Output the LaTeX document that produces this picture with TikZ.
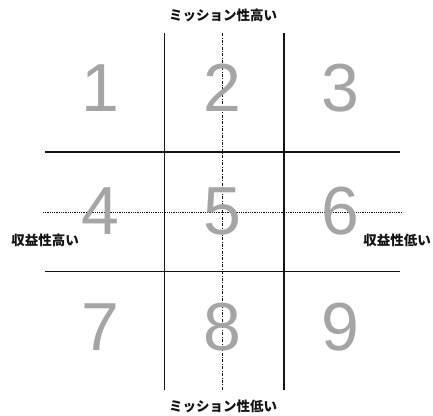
\documentclass[tikz,border=0pt]{standalone}
\usepackage{fontspec}
\usepackage{xcolor}
\usepackage{tikz}
\usetikzlibrary{positioning, calc}
\setsansfont{Liberation Sans}
\newfontfamily\jpfont{Noto Sans CJK JP}
\definecolor{mydark}{RGB}{20,20,20}
\definecolor{mydigit}{RGB}{165,165,165}
\tikzset{
  gridline/.style={line width=1.1pt, color=mydark},
  axisdash/.style={line width=0.8pt, color=mydark, dash pattern=on 3pt off 1.5pt on 0.8pt off 1.5pt},
  axisdot/.style={line width=0.8pt, color=mydark, densely dotted},
  digit/.style={font=\sffamily\fontsize{68}{68}\selectfont, color=mydigit, inner sep=0pt},
  axislabel/.style={font=\jpfont\bfseries\fontsize{13.5}{14}\selectfont, color=mydark, inner sep=0pt}
}

\begin{document}
\begin{tikzpicture}[x=1pt, y=-1pt]
  \useasboundingbox (0,0) rectangle (433,415);
  % Grid corners
  \coordinate (v1top) at (164.5,33);
  \coordinate (v1bot) at (164.5,390);
  \coordinate (v2top) at (284,33);
  \coordinate (v2bot) at (284,390);
  \coordinate (h1lft) at (45,152);
  \coordinate (h1rgt) at (400,152);
  \coordinate (h2lft) at (45,271.5);
  \coordinate (h2rgt) at (400,271.5);
  % Axes
  \coordinate (axtop) at (222,33);
  \coordinate (axbot) at (222,390);
  \coordinate (axlft) at (43,212);
  \coordinate (axrgt) at (403,212);
  \draw[axisdash] (axtop) -- (axbot);
  \draw[axisdot] (axlft) -- (axrgt);
  % Grid lines
  \draw[gridline] (v1top) -- (v1bot);
  \draw[gridline] (v2top) -- (v2bot);
  \draw[gridline] (h1lft) -- (h1rgt);
  \draw[gridline] (h2lft) -- (h2rgt);
  % Cell numbers
  \foreach \n/\x/\y in {1/100/88, 2/222/88, 3/340/88,
                        4/100/211, 5/222/211, 6/340/211,
                        7/100/327, 8/222/327, 9/340/327}
    \node[digit] (cell\n) at (\x,\y) {\n};
  % Axis labels
  \node[axislabel] (mishigh) at (223,15) {ミッション性高い};
  \node[axislabel] (mislow) at (223,406) {ミッション性低い};
  \node[axislabel] (revhigh) at (45,240) {収益性高い};
  \node[axislabel] (revlow) at (397,240) {収益性低い};
\end{tikzpicture}
\end{document}
